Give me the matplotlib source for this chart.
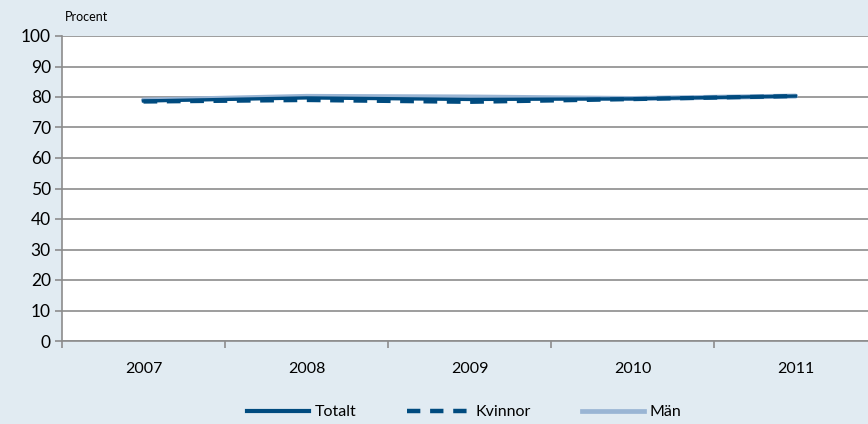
import matplotlib
matplotlib.use("Agg")
import matplotlib.pyplot as plt
from matplotlib.lines import Line2D

years = ["2007", "2008", "2009", "2010", "2011"]
totalt = [78.7, 79.7, 79.2, 79.4, 80.3]
kvinnor = [78.5, 79.0, 78.4, 79.3, 80.3]
man = [79.0, 80.2, 80.0, 79.5, 80.3]

bg = "#E1EBF2"
dark = "#004B7F"
light = "#9AB5D4"
grid = "#8C8C8C"

plt.rcParams["font.family"] = ["Lato", "DejaVu Sans"]

fig = plt.figure(figsize=(8.68, 4.24), dpi=100, facecolor=bg)
ax = fig.add_axes([62 / 868, 1 - 341 / 424, (877 - 62) / 868, (341 - 36) / 424])
ax.set_facecolor("white")

x = list(range(len(years)))
ax.plot(x, man, color=light, lw=3.6, solid_capstyle="round", zorder=3)
ax.plot(x, totalt, color=dark, lw=2.4, zorder=4)
ax.plot(x, kvinnor, color=dark, lw=3.0, dashes=(3.3, 2.3), zorder=5)

ax.set_xlim(-0.5, 4.5)
ax.set_ylim(0, 100)
ax.set_yticks(range(0, 101, 10))
ax.yaxis.grid(True, color=grid, lw=1.2)
ax.set_axisbelow(True)

ax.set_xticks([i - 0.5 for i in range(len(years) + 1)])
ax.set_xticklabels([])
ax.set_xticks(x, minor=True)
ax.set_xticklabels(years, minor=True)
ax.tick_params(axis="x", which="minor", length=0, pad=15, labelsize=11.5)
ax.tick_params(axis="x", which="major", length=5, color=grid, width=1.2)
ax.tick_params(axis="y", length=5, color=grid, width=1.2, labelsize=12.5, pad=3)

for s in ["top", "right"]:
    ax.spines[s].set_visible(False)
for s in ["left", "bottom"]:
    ax.spines[s].set_color(grid)
    ax.spines[s].set_linewidth(1.2)

fig.text(65 / 868, 1 - 17 / 424, "Procent", fontsize=9, va="center", ha="left")

handles = [
    Line2D([], [], color=dark, lw=3),
    Line2D([], [], color=dark, lw=3.2, dashes=(3, 2.2)),
    Line2D([], [], color=light, lw=3.4),
]
fig.legend(handles, ["Totalt", "Kvinnor", "Män"], loc="center",
           bbox_to_anchor=(464 / 868, 1 - 412 / 424), ncol=3, frameon=False,
           handlelength=3.9, handletextpad=0.35, columnspacing=3.2, fontsize=11.5)

fig.savefig("out.png", dpi=100, facecolor=bg)
